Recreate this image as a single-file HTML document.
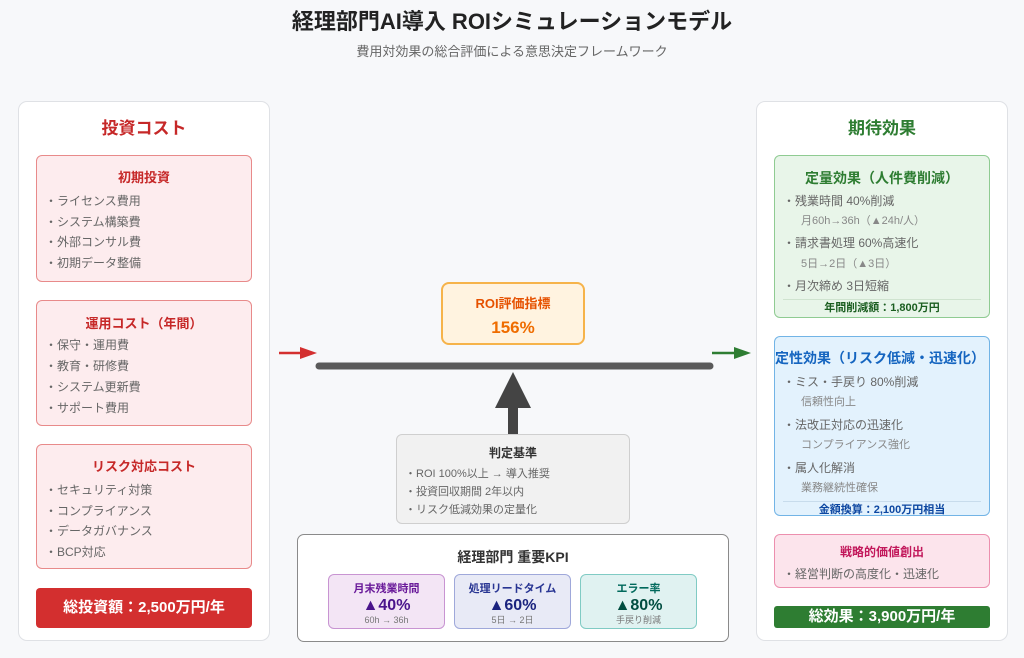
<!DOCTYPE html>
<html><head><meta charset="utf-8"><style>
*{margin:0;padding:0;box-sizing:border-box}
body{width:1024px;height:658px;background:#f7f8fa;font-family:"Liberation Sans","Noto Sans CJK JP",sans-serif;position:relative;overflow:hidden;color:#555}
.a{position:absolute}
.c{text-align:center}
.t{position:absolute;white-space:nowrap;line-height:1}
.panel{position:absolute;background:#fff;border:1.5px solid #dfe1e5;border-radius:9px}
.box{position:absolute;border-radius:6px;border:1.5px solid}
.li{position:absolute;left:8px;font-size:12px;color:#666;white-space:nowrap;line-height:1}
.sub{position:absolute;left:26px;font-size:11px;color:#888;white-space:nowrap;line-height:1}
.bt{position:absolute;left:0;right:0;text-align:center;font-weight:bold;line-height:1;white-space:nowrap}
</style></head><body>
<div class="t c" style="left:0;right:0;top:11px;font-size:22px;font-weight:bold;color:#222">経理部門AI導入 ROIシミュレーションモデル</div>
<div class="t c" style="left:0;right:0;top:45px;font-size:13px;color:#666">費用対効果の総合評価による意思決定フレームワーク</div>

<!-- left panel -->
<div class="panel" style="left:18px;top:101px;width:252px;height:540px">
  <div class="bt" style="top:18px;font-size:17px;color:#c62828">投資コスト</div>
</div>
<div class="box" style="left:36px;top:155px;width:216px;height:127px;background:#fdecee;border-color:#e88a8a">
  <div class="bt" style="top:15px;font-size:13px;color:#c62828">初期投資</div>
  <div class="li" style="top:39px">・ライセンス費用</div>
  <div class="li" style="top:60px">・システム構築費</div>
  <div class="li" style="top:80px">・外部コンサル費</div>
  <div class="li" style="top:101px">・初期データ整備</div>
</div>
<div class="box" style="left:36px;top:300px;width:216px;height:126px;background:#fdecee;border-color:#e88a8a">
  <div class="bt" style="top:16px;font-size:13px;color:#c62828">運用コスト（年間）</div>
  <div class="li" style="top:38px">・保守・運用費</div>
  <div class="li" style="top:59px">・教育・研修費</div>
  <div class="li" style="top:80px">・システム更新費</div>
  <div class="li" style="top:101px">・サポート費用</div>
</div>
<div class="box" style="left:36px;top:444px;width:216px;height:125px;background:#fdecee;border-color:#e88a8a">
  <div class="bt" style="top:15px;font-size:13px;color:#c62828">リスク対応コスト</div>
  <div class="li" style="top:39px">・セキュリティ対策</div>
  <div class="li" style="top:60px">・コンプライアンス</div>
  <div class="li" style="top:80px">・データガバナンス</div>
  <div class="li" style="top:101px">・BCP対応</div>
</div>
<div class="a" style="left:36px;top:588px;width:216px;height:40px;background:#d32f2f;border-radius:4px">
  <div class="bt" style="top:12px;font-size:15px;color:#fff">総投資額：2,500万円/年</div>
</div>

<!-- right panel -->
<div class="panel" style="left:756px;top:101px;width:252px;height:540px">
  <div class="bt" style="top:18px;font-size:17px;color:#2e7d32">期待効果</div>
</div>
<div class="box" style="left:774px;top:155px;width:216px;height:163px;background:#e8f5e9;border-color:#8fcb92">
  <div class="bt" style="top:15px;font-size:14px;color:#2e7d32">定量効果（人件費削減）</div>
  <div class="li" style="top:39px">・残業時間 40%削減</div>
  <div class="sub" style="top:60px">月60h→36h（▲24h/人）</div>
  <div class="li" style="top:81px">・請求書処理 60%高速化</div>
  <div class="sub" style="top:103px">5日→2日（▲3日）</div>
  <div class="li" style="top:124px">・月次締め 3日短縮</div>
  <div class="a" style="left:8px;right:8px;top:143px;border-top:1px solid #cfe3cf"></div>
  <div class="bt" style="top:147px;font-size:11px;color:#1b5e20">年間削減額：1,800万円</div>
</div>
<div class="box" style="left:774px;top:336px;width:216px;height:180px;background:#e3f2fd;border-color:#72b4e6">
  <div class="t" style="left:0;top:14px;font-size:14px;font-weight:bold;color:#1565c0">定性効果（リスク低減・迅速化）</div>
  <div class="li" style="top:39px">・ミス・手戻り 80%削減</div>
  <div class="sub" style="top:60px">信頼性向上</div>
  <div class="li" style="top:82px">・法改正対応の迅速化</div>
  <div class="sub" style="top:103px">コンプライアンス強化</div>
  <div class="li" style="top:125px">・属人化解消</div>
  <div class="sub" style="top:146px">業務継続性確保</div>
  <div class="a" style="left:8px;right:8px;top:164px;border-top:1px solid #c8dcec"></div>
  <div class="bt" style="top:168px;font-size:11px;color:#0d47a1">金額換算：2,100万円相当</div>
</div>
<div class="box" style="left:774px;top:534px;width:216px;height:54px;background:#fce4ec;border-color:#ec8fae">
  <div class="bt" style="top:11px;font-size:12px;color:#c2185b">戦略的価値創出</div>
  <div class="li" style="top:33px">・経営判断の高度化・迅速化</div>
</div>
<div class="a" style="left:774px;top:606px;width:216px;height:22px;background:#2e7d32;border-radius:3px">
  <div class="bt" style="top:3px;font-size:15px;color:#fff">総効果：3,900万円/年</div>
</div>

<!-- center -->
<div class="box" style="left:441px;top:282px;width:144px;height:63px;background:#fff3e0;border-color:#f6b34a;border-width:2px;border-radius:8px">
  <div class="bt" style="top:13px;font-size:13px;color:#e65100">ROI評価指標</div>
  <div class="bt" style="top:35px;font-size:17px;color:#ef6c00">156%</div>
</div>
<svg class="a" style="left:0;top:0" width="1024" height="658">
  <line x1="279" y1="353" x2="302" y2="353" stroke="#d32f2f" stroke-width="2.5"/>
  <polygon points="300,347 317,353 300,359" fill="#d32f2f"/>
  <line x1="712" y1="353" x2="736" y2="353" stroke="#2e7d32" stroke-width="2.5"/>
  <polygon points="734,347 751,353 734,359" fill="#2e7d32"/>
  <line x1="319" y1="366" x2="710" y2="366" stroke="#5a5a5a" stroke-width="7" stroke-linecap="round"/>
  <polygon points="513,372 531,408 495,408" fill="#444"/>
  <rect x="508" y="407" width="10" height="28" fill="#444"/>
</svg>
<div class="box" style="left:396px;top:434px;width:234px;height:90px;background:#f1f1f1;border-color:#cfcfcf">
  <div class="bt" style="top:12px;font-size:12px;color:#333">判定基準</div>
  <div class="li" style="top:34px;font-size:11px">・ROI 100%以上 → 導入推奨</div>
  <div class="li" style="top:52px;font-size:11px">・投資回収期間 2年以内</div>
  <div class="li" style="top:70px;font-size:11px">・リスク低減効果の定量化</div>
</div>
<div class="box" style="left:297px;top:534px;width:432px;height:108px;background:#fff;border-color:#8a8a8a;border-radius:7px">
  <div class="bt" style="top:15px;font-size:14px;color:#333">経理部門 重要KPI</div>
</div>
<div class="box" style="left:328px;top:574px;width:117px;height:55px;background:#f3e5f5;border-color:#c894d2;border-width:1px">
  <div class="bt" style="top:9px;font-size:11px;color:#6a1b9a">月末残業時間</div>
  <div class="bt" style="top:23px;font-size:16px;color:#4a148c">▲40%</div>
  <div class="bt" style="top:41px;font-size:9px;color:#777;font-weight:normal">60h → 36h</div>
</div>
<div class="box" style="left:454px;top:574px;width:117px;height:55px;background:#e8eaf6;border-color:#9fa8da;border-width:1px">
  <div class="bt" style="top:9px;font-size:11px;color:#283593">処理リードタイム</div>
  <div class="bt" style="top:23px;font-size:16px;color:#1a237e">▲60%</div>
  <div class="bt" style="top:41px;font-size:9px;color:#777;font-weight:normal">5日 → 2日</div>
</div>
<div class="box" style="left:580px;top:574px;width:117px;height:55px;background:#e0f2f1;border-color:#80cbc4;border-width:1px">
  <div class="bt" style="top:9px;font-size:11px;color:#00695c">エラー率</div>
  <div class="bt" style="top:23px;font-size:16px;color:#004d40">▲80%</div>
  <div class="bt" style="top:41px;font-size:9px;color:#777;font-weight:normal">手戻り削減</div>
</div>
</body></html>
